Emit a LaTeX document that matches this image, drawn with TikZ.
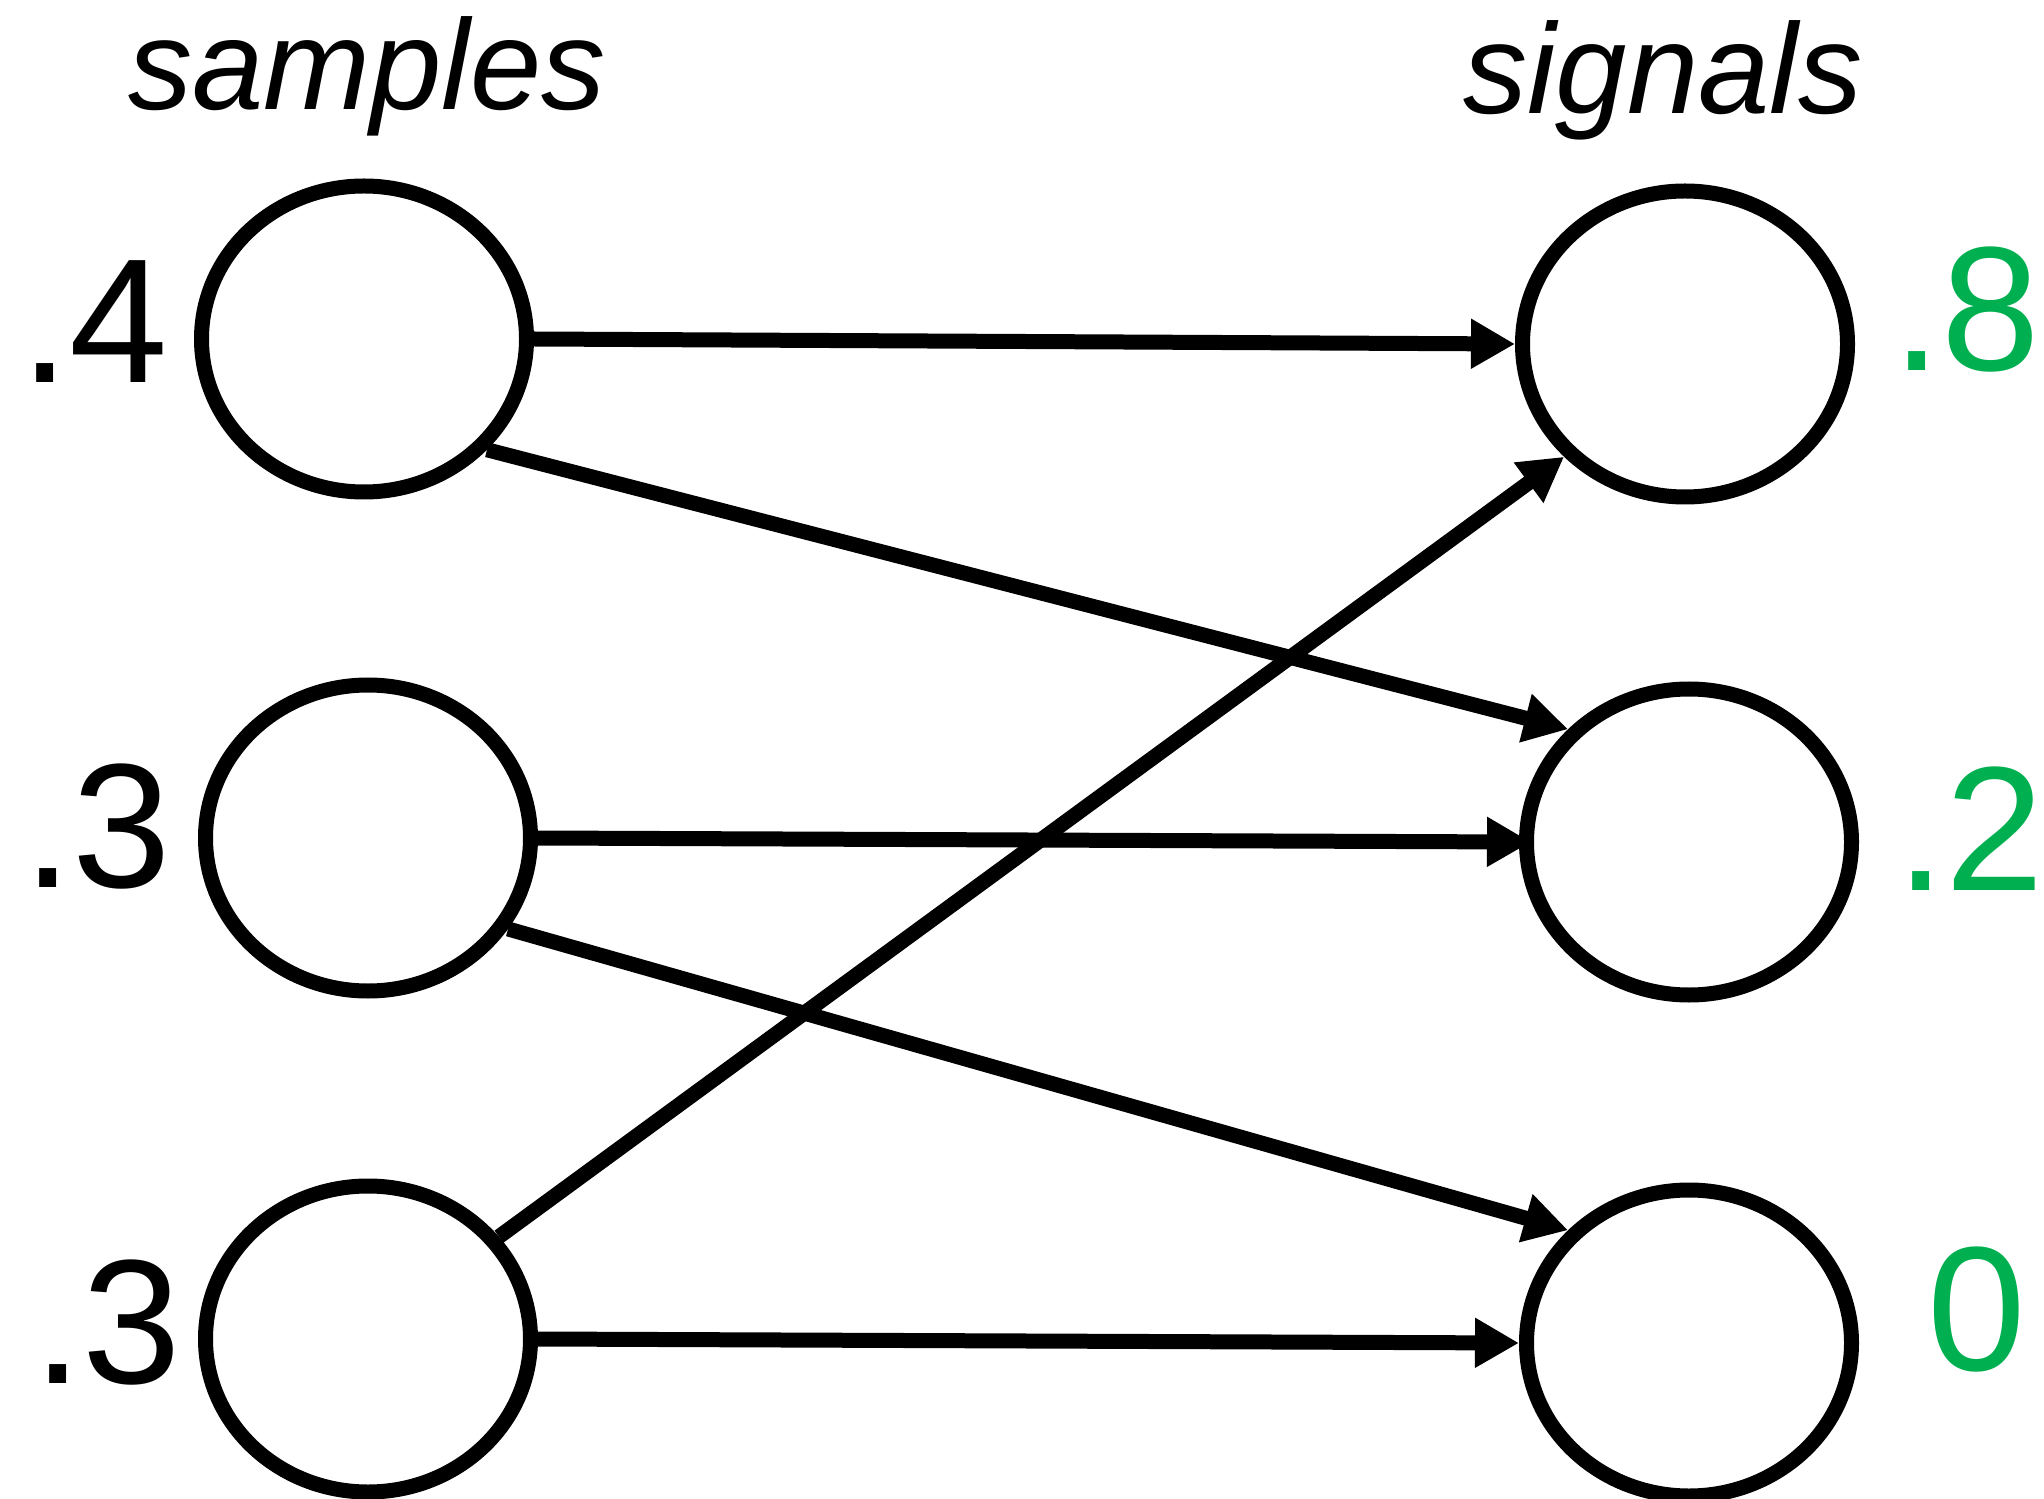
\documentclass[tikz,border=0pt]{standalone}
\usepackage{fontspec}
\setmainfont{Liberation Sans}
\usetikzlibrary{shapes.geometric,arrows.meta}
\definecolor{valgreen}{RGB}{0,176,80}
\begin{document}
\begin{tikzpicture}[
  unit/.style={ellipse, draw=black, line width=1.5mm, minimum width=3.25cm,
               minimum height=3.06cm, inner sep=0pt, fill=white},
  link/.style={line width=1.5mm, -{Triangle[length=4.4mm,width=4.7mm]}},
  prob/.style={inner sep=0pt, font=\fontsize{50.4pt}{60pt}\selectfont},
  outv/.style={prob, text=valgreen},
  head/.style={inner sep=0pt, anchor=base, font=\fontsize{36.5pt}{44pt}\selectfont\itshape}
]
\useasboundingbox (0,0) rectangle (20.44,-14.99);

% column headings
\node[head] (hs) at (3.67,-1.10) {samples};
\node[head] (hg) at (16.63,-1.14) {signals};

% sample units (left) and signal units (right)
\node[unit] (s1) at (3.64,-3.39) {};
\node[unit] (s2) at (3.68,-8.38) {};
\node[unit] (s3) at (3.68,-13.39) {};
\node[unit] (g1) at (16.85,-3.44) {};
\node[unit] (g2) at (16.89,-8.42) {};
\node[unit] (g3) at (16.89,-13.43) {};

% sample probabilities
\node[prob, anchor=base east] (p1) at (1.69,-3.83) {.4};
\node[prob, anchor=base east] (p2) at (1.72,-8.87) {.3};
\node[prob, anchor=base east] (p3) at (1.82,-13.83) {.3};

% signal values
\node[outv, anchor=base west] (v1) at (18.92,-3.71) {.8};
\node[outv, anchor=base west] (v2) at (18.96,-8.90) {.2};
\node[outv, anchor=base west] (v3) at (19.27,-13.70) {0};

% mapping from samples to signals
\draw[link] (s1.0) -- (g1.180);
\draw[link] (s1.-42.3) -- (g2.137.2);
\draw[link, shorten >=-1.2mm] (s2.0) -- (g2.180);
\draw[link] (s2.-33.1) -- (g3.137);
\draw[link] (s3.38.7) -- (g1.223.8);
\draw[link] (s3.0) -- (g3.180);
\end{tikzpicture}
\end{document}
